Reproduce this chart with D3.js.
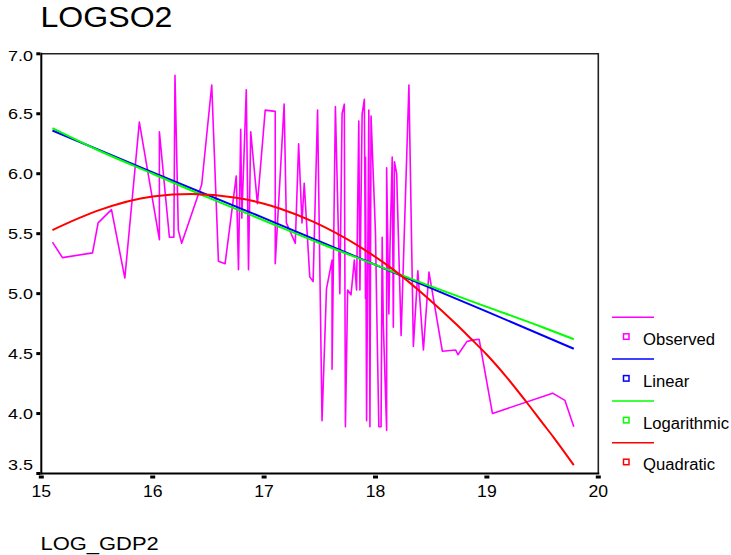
<!DOCTYPE html>
<html>
<head>
<meta charset="utf-8">
<script src="https://cdn.jsdelivr.net/npm/d3@7"></script>
<style>
  html, body { margin: 0; padding: 0; background: #fff; }
  svg { display: block; font-family: "Liberation Sans", Arial, sans-serif; }
</style>
</head>
<body>
<svg id="chart" width="731" height="555"></svg>
<script>
// Observed LOGSO2 against LOG_GDP2, in ascending LOG_GDP2 order
const observedX = [15.10, 15.19, 15.46, 15.51, 15.63, 15.75, 15.88, 16.06, 16.06, 16.15,
  16.19, 16.20, 16.23, 16.26, 16.44, 16.53, 16.59, 16.65, 16.75, 16.77,
  16.79, 16.80, 16.84, 16.86, 16.88, 16.94, 17.01, 17.10, 17.10, 17.18,
  17.20, 17.28, 17.31, 17.34, 17.36, 17.41, 17.44, 17.48, 17.52, 17.56,
  17.61, 17.61, 17.64, 17.68, 17.70, 17.72, 17.73, 17.75, 17.78, 17.81,
  17.83, 17.85, 17.86, 17.88, 17.90, 17.91, 17.91, 17.92, 17.94, 17.95,
  17.96, 18.00, 18.01, 18.03, 18.05, 18.06, 18.07, 18.10, 18.10, 18.12,
  18.13, 18.15, 18.16, 18.17, 18.19, 18.23, 18.30, 18.34, 18.38, 18.43,
  18.48, 18.60, 18.72, 18.74, 18.82, 18.86, 18.93, 19.05, 19.59, 19.70,
  19.78];
const observedY = [5.43, 5.30, 5.34, 5.59, 5.70, 5.13, 6.43, 5.45, 6.35, 5.47,
  5.47, 6.82, 5.53, 5.42, 5.91, 6.74, 5.27, 5.25, 5.98, 5.20,
  6.37, 5.63, 6.70, 5.20, 6.35, 5.75, 6.53, 6.52, 5.25, 6.58,
  5.59, 5.42, 6.25, 5.59, 5.92, 5.14, 5.10, 6.53, 3.94, 5.04,
  5.28, 4.37, 6.56, 5.00, 6.50, 6.58, 3.89, 5.03, 4.99, 5.28,
  5.03, 6.44, 5.03, 6.50, 6.62, 4.96, 6.14, 3.94, 6.53, 3.89,
  6.48, 5.50, 4.92, 3.89, 3.89, 5.47, 4.75, 3.86, 6.05, 4.83,
  5.39, 6.14, 4.72, 6.10, 6.00, 4.65, 6.74, 4.56, 5.19, 4.53,
  5.18, 4.52, 4.53, 4.49, 4.60, 4.61, 4.62, 4.00, 4.17, 4.11,
  3.89];

// Fitted curves
const linearX = [15.10, 16.00, 17.00, 18.00, 19.00, 19.78];
const linearY = [6.36, 6.01, 5.63, 5.24, 4.85, 4.54];
const logX = [15.10, 15.50, 16.00, 16.50, 17.00, 17.50, 18.00, 18.50, 19.00, 19.50, 19.78];
const logY = [6.38, 6.20, 6.00, 5.80, 5.61, 5.42, 5.24, 5.06, 4.89, 4.72, 4.62];
const quadX = [15.10, 15.50, 16.00, 16.35, 16.75, 17.00, 17.14, 17.44, 17.86, 18.16, 18.46,
  18.73, 18.85, 19.00, 19.18, 19.36, 19.50, 19.60, 19.78];
const quadY = [5.53, 5.69, 5.81, 5.83, 5.80, 5.75, 5.71, 5.60, 5.39, 5.20, 4.97,
  4.74, 4.63, 4.49, 4.30, 4.09, 3.92, 3.80, 3.57];

const xTicks = [15, 16, 17, 18, 19, 20];
const yTicks = [3.5, 4.0, 4.5, 5.0, 5.5, 6.0, 6.5, 7.0];

const series = [
  { name: "Observed",    color: "#ff00ff", width: 1.6, xs: observedX, ys: observedY, curve: d3.curveLinear },
  { name: "Linear",      color: "#0000ff", width: 2,   xs: linearX,   ys: linearY,   curve: d3.curveLinear },
  { name: "Logarithmic", color: "#00ff00", width: 2,   xs: logX,      ys: logY,      curve: d3.curveMonotoneX },
  { name: "Quadratic",   color: "#ff0000", width: 2,   xs: quadX,     ys: quadY,     curve: d3.curveMonotoneX }
];

const svg = d3.select("#chart");
const plotLeft = 41.3, plotRight = 598.3, plotTop = 53.8, plotBottom = 473.5;

const x = d3.scaleLinear().domain([15, 20]).range([plotLeft, plotRight]);
const y = d3.scaleLinear().domain([3.5, 7.0]).range([plotBottom, plotTop]);

// text with a slight horizontal stretch
function label(g, tx, ty, str, size, anchor, sx) {
  return g.append("text")
    .attr("transform", `translate(${tx},${ty}) scale(${sx},1)`)
    .attr("font-size", size)
    .attr("text-anchor", anchor)
    .attr("fill", "#000")
    .text(str);
}

// title and axis caption
label(svg, 40.5, 27, "LOGSO2", 30, "start", 1.07);
label(svg, 40.5, 550, "LOG_GDP2", 18, "start", 1.22);

// plot frame: top and right
svg.append("path")
  .attr("d", `M${plotLeft},${plotTop}H${plotRight}V${plotBottom}`)
  .attr("fill", "none").attr("stroke", "#222").attr("stroke-width", 1.6);

// series lines, clipped to the plot area
svg.append("clipPath").attr("id", "plot")
  .append("rect").attr("x", plotLeft).attr("y", plotTop - 2)
  .attr("width", plotRight - plotLeft).attr("height", plotBottom - plotTop + 2);

const lines = svg.append("g").attr("clip-path", "url(#plot)");
series.forEach(s => {
  const pts = s.xs.map((v, i) => [v, s.ys[i]]);
  lines.append("path")
    .datum(pts)
    .attr("fill", "none")
    .attr("stroke", s.color)
    .attr("stroke-width", s.width)
    .attr("stroke-linejoin", "round")
    .attr("d", d3.line().x(d => x(d[0])).y(d => y(d[1])).curve(s.curve));
});

// axes
svg.append("line").attr("x1", plotLeft).attr("x2", plotLeft).attr("y1", plotTop - 1).attr("y2", plotBottom + 1)
  .attr("stroke", "#000").attr("stroke-width", 2);
svg.append("line").attr("x1", plotLeft - 1).attr("x2", plotRight + 1).attr("y1", plotBottom).attr("y2", plotBottom)
  .attr("stroke", "#000").attr("stroke-width", 2);

// y ticks: small square marks outside the axis
const yAxisG = svg.append("g");
yTicks.forEach(t => {
  const py = y(t);
  yAxisG.append("rect").attr("x", plotLeft - 5).attr("y", py - 1.5).attr("width", 4).attr("height", 3).attr("fill", "#000");
  const cy = Math.max(plotTop + 1.5, Math.min(plotBottom - 9, py));
  label(yAxisG, 33, cy + 5.3, d3.format(".1f")(t), 15, "end", 1.2);
});

// x ticks
const xAxisG = svg.append("g");
xTicks.forEach(t => {
  const px = x(t);
  xAxisG.append("rect").attr("x", px - 2.5).attr("y", plotBottom + 2).attr("width", 5).attr("height", 3).attr("fill", "#000");
  label(xAxisG, px, 497, String(t), 16, "middle", 1.1);
});

// legend
const legend = svg.append("g");
const legTop = 317.3, legStep = 41.8;
series.forEach((s, i) => {
  const ly = legTop + i * legStep;
  legend.append("line").attr("x1", 612).attr("x2", 654).attr("y1", ly).attr("y2", ly)
    .attr("stroke", s.color).attr("stroke-width", 1.5);
  legend.append("rect").attr("x", 623.5).attr("y", ly + 16.5).attr("width", 5.5).attr("height", 5.5)
    .attr("fill", "#fff").attr("stroke", s.color).attr("stroke-width", 1.5);
  label(legend, 643, ly + 27.7, s.name, 16, "start", 1.04);
});
</script>
</body>
</html>
